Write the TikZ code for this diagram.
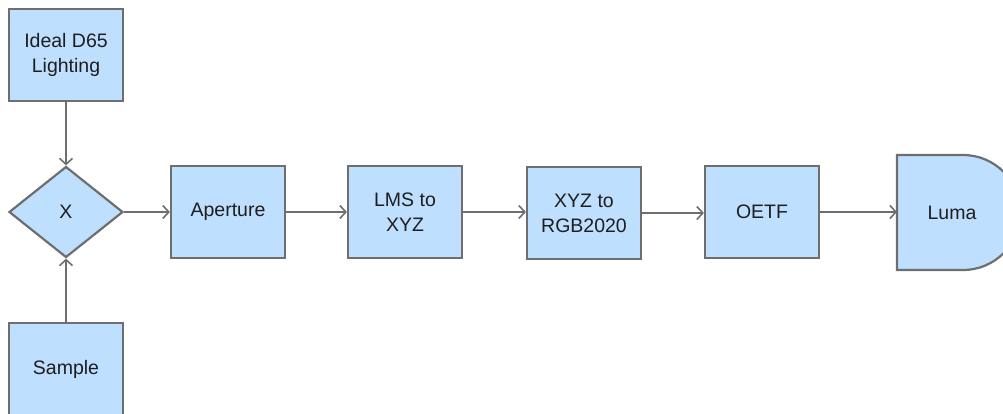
\documentclass[tikz,border=0pt]{standalone}
\usepackage{fontspec}
\setmainfont{Liberation Sans}
\usetikzlibrary{shapes.geometric,arrows.meta}
\definecolor{boxfill}{RGB}{191,223,255}
\definecolor{boxline}{RGB}{110,110,110}
\definecolor{txt}{RGB}{30,30,30}
\tikzset{
  base/.style={fill=boxfill,draw=boxline,line width=2.2pt,inner sep=0pt,
    font=\fontsize{19.5}{25}\selectfont,text=txt,align=center},
  stepbox/.style={base,rectangle,minimum width=114pt,minimum height=92pt},
  dia/.style={base,diamond,minimum width=114pt,minimum height=91pt},
  conn/.style={draw=boxline,line width=2pt,-{Straight Barb[length=6pt,width=13pt,line width=1.6pt]}},
}
\begin{document}
\begin{tikzpicture}[x=1pt,y=-1pt]
\useasboundingbox (0,0) rectangle (1003,414);
\clip (0,0) rectangle (1003,414);
\node[stepbox] (ideal) at (66,55) {Ideal D65\\Lighting};
\node[dia] (x) at (66,212) {X};
\node[stepbox] (sample) at (66,369) {Sample};
\node[stepbox] (aperture) at (228,212) {Aperture};
\node[stepbox] (lms) at (405,212) {LMS to\\XYZ};
\node[stepbox] (xyz) at (584,213) {XYZ to\\RGB2020};
\node[stepbox] (oetf) at (762,212) {OETF};
% Luma delay shape
\draw[fill=boxfill,draw=boxline,line width=2.2pt] (897,155) -- (963,155) arc[start angle=90,end angle=-90,radius=57.5pt] -- (897,270) -- cycle;
\node[base,fill=none,draw=none,rectangle,minimum width=110pt,minimum height=115pt] (luma) at (952,213) {Luma};
\draw[conn] (ideal) -- (x);
\draw[conn] (sample) -- (x);
\draw[conn] (x.east) -- (aperture.west |- x.east);
\draw[conn] (aperture) -- (lms);
\draw[conn] (lms.east) -- (xyz.west |- lms.east);
\draw[conn] (xyz.east) -- (oetf.west |- xyz.east);
\draw[conn] (oetf.east) -- (897,212);
\end{tikzpicture}
\end{document}
